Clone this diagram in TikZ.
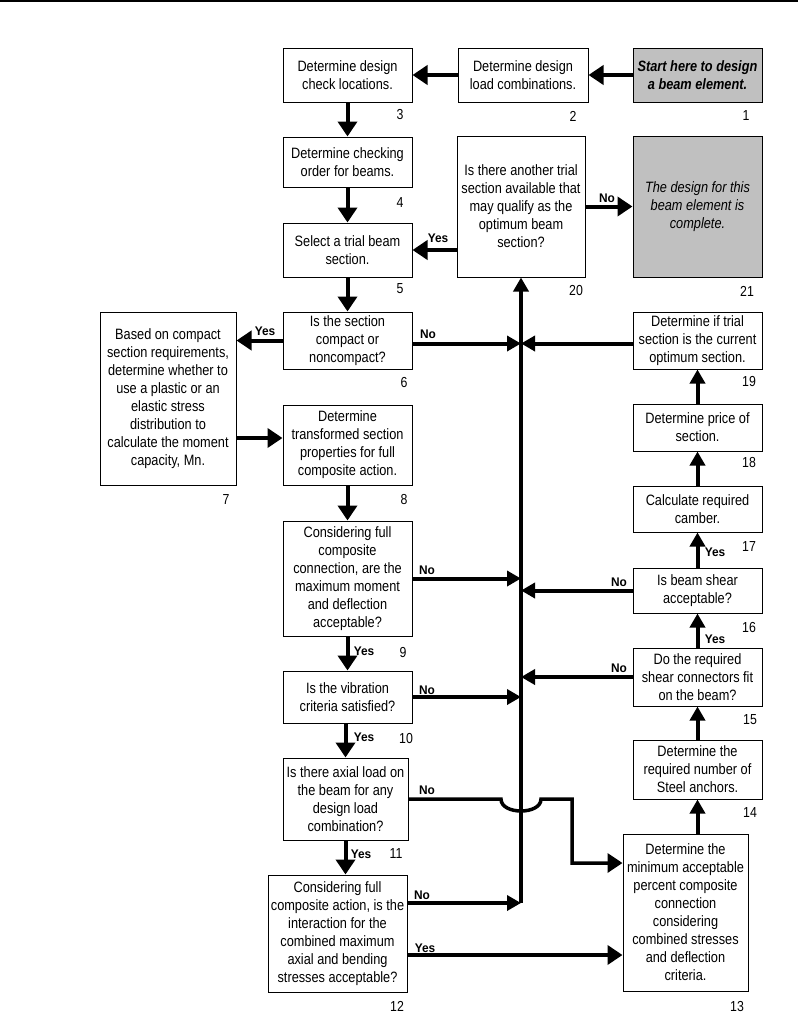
\documentclass[tikz,border=0pt]{standalone}
\usepackage{fontspec}
\setmainfont{Liberation Sans}[FakeStretch=0.85]
\newfontfamily\lblfamily{Liberation Sans}[FakeStretch=0.95]
\usetikzlibrary{arrows.meta}
\definecolor{boxgray}{RGB}{192,192,192}
\newcommand\boxfont{\fontsize{15}{18}\selectfont}
\newcommand\numfont{\fontsize{14.5}{16}\selectfont}
\newcommand\lblfont{\lblfamily\bfseries\fontsize{12.5}{14}\selectfont}
\newcommand\mybox[7][]{\node[box,#1,minimum width={(#5-#3)*1pt},minimum height={(#6-#4)*1pt}] (#2) at ({(#3+#5)/2},{(#4+#6)/2}) {#7};}
\begin{document}
\begin{tikzpicture}[x=1pt,y=-1pt,
  box/.style={draw=black, line width=1pt, fill=white, inner sep=1pt, align=center, font=\boxfont},
  startbox/.style={fill=boxgray, font=\boxfont\bfseries\itshape},
  endbox/.style={fill=boxgray, font=\boxfont\itshape},
  num/.style={font=\numfont, inner sep=0pt},
  lbl/.style={font=\lblfont, inner sep=0pt},
  arr/.style={line width=4pt, -{Triangle[length=15pt,width=19pt]}},
  arrs/.style={line width=4pt, -{Triangle[length=14pt,width=15pt]}},
  busline/.style={line width=3.5pt}
]
\useasboundingbox (0,0) rectangle (798,1021);
\draw[line width=1.5pt] (0,0.75) -- (798,0.75);

% boxes
\mybox[startbox]{b1}{633}{48}{762}{102}{Start here to design\\a beam element.}
\mybox{b2}{458}{48}{588}{102}{Determine design\\load combinations.}
\mybox{b3}{283}{48}{412}{102}{Determine design\\check locations.}
\mybox{b4}{283}{137}{412}{187}{Determine checking\\order for beams.}
\mybox{b5}{283}{223}{412}{277}{Select a trial beam\\section.}
\mybox{b20}{457}{136}{585}{277}{Is there another trial\\section available that\\may qualify as the\\optimum beam\\section?}
\mybox[endbox]{b21}{633}{136}{762}{277}{The design for this\\beam element is\\complete.}
\mybox{b6}{283}{312}{412}{369}{Is the section\\compact or\\noncompact?}
\mybox{b7}{100}{312}{236}{485}{Based on compact\\section requirements,\\determine whether to\\use a plastic or an\\elastic stress\\distribution to\\calculate the moment\\capacity, Mn.}
\mybox{b8}{283}{405}{412}{485}{Determine\\transformed section\\properties for full\\composite action.}
\mybox{b9}{283}{521}{412}{636}{Considering full\\composite\\connection, are the\\maximum moment\\and deflection\\acceptable?}
\mybox{b10}{283}{671}{412}{723}{Is the vibration\\criteria satisfied?}
\mybox{b11}{283}{758}{408}{840}{Is there axial load on\\the beam for any\\design load\\combination?}
\mybox{b12}{268}{875}{407}{992}{Considering full\\composite action, is the\\interaction for the\\combined maximum\\axial and bending\\stresses acceptable?}
\mybox{b13}{623}{834}{748}{991}{Determine the\\minimum acceptable\\percent composite\\connection\\considering\\combined stresses\\and deflection\\criteria.}
\mybox{b14}{633}{740}{762}{799}{Determine the\\required number of\\Steel anchors.}
\mybox{b15}{633}{648}{762}{706}{Do the required\\shear connectors fit\\on the beam?}
\mybox{b16}{633}{568}{762}{613}{Is beam shear\\acceptable?}
\mybox{b17}{633}{486}{762}{532}{Calculate required\\camber.}
\mybox{b18}{633}{404}{762}{451}{Determine price of\\section.}
\mybox{b19}{633}{312}{762}{369}{Determine if trial\\section is the current\\optimum section.}

% numbers
\node[num] (n1) at (746,116) {1};
\node[num] (n2) at (573,116) {2};
\node[num] (n3) at (400,115) {3};
\node[num] (n4) at (400,203) {4};
\node[num] (n5) at (400,289) {5};
\node[num] (n6) at (404,383) {6};
\node[num] (n7) at (226,500) {7};
\node[num] (n8) at (404,500) {8};
\node[num] (n9) at (403,652) {9};
\node[num] (n10) at (406,738) {10};
\node[num] (n11) at (396,854) {11};
\node[num] (n12) at (397,1006) {12};
\node[num] (n13) at (737,1006) {13};
\node[num] (n14) at (750,813) {14};
\node[num] (n15) at (750,720) {15};
\node[num] (n16) at (749,627) {16};
\node[num] (n17) at (749,547) {17};
\node[num] (n18) at (749,463) {18};
\node[num] (n19) at (749,382) {19};
\node[num] (n20) at (576,291) {20};
\node[num] (n21) at (747,291) {21};

% top row
\draw[arr] (b1.west) -- (b2.east);
\draw[arr] (b2.west) -- (b3.east);
% left column
\draw[arr] (b3.south) -- (b4.north);
\draw[arr] (b4.south) -- (b5.north);
\draw[arr] (b5.south) -- (b6.north);
\draw[arr] (b8.south) -- (b9.north);
\draw[arr] (b9.south) -- (b10.north);
\draw[arr] (b10.south -| b11.north) -- (b11.north);
\draw[arr] (b11.south) -- (b11.south |- b12.north);
\draw[arr] (b20.west |- b5.east) -- (b5.east);
\draw[arr] (b20.east) -- (b21.west);
\draw[arr] (b6.west) -- (b6.west -| b7.east);
\draw[arr] ([yshift=-39.5pt]b7.east) -- ([yshift=-39.5pt]b7.east -| b8.west);
% right column
\draw[arrs] (b13.north -| b14.south) -- (b14.south);
\draw[arrs] (b14.north) -- (b15.south);
\draw[arrs] (b15.north) -- (b16.south);
\draw[arrs] (b16.north) -- (b17.south);
\draw[arrs] (b17.north) -- (b18.south);
\draw[arrs] (b18.north) -- (b19.south);

% bus
\coordinate (busb) at (521,903);
\draw[busline, -{Triangle[length=14pt,width=15pt]}] (busb) -- (b20.south);
\draw[arrs] ([yshift=-3pt]b6.east) -- ([yshift=-3pt]b6.east -| busb);
\draw[arrs] ([yshift=-3pt]b19.west) -- ([yshift=-3pt]b19.west -| busb);
\draw[arrs] (b9.east) -- (b9.east -| busb);
\draw[arrs] (b16.west) -- (b16.west -| busb);
\draw[arrs] (b10.east) -- (b10.east -| busb);
\draw[arrs] (b15.west) -- (b15.west -| busb);
\draw[arrs] ([yshift=30.5pt]b12.east) -- ([yshift=30.5pt]b12.east -| busb);
\draw[arr] ([yshift=-21.5pt]b12.east) -- ([yshift=-21.5pt]b12.east -| b13.west);
\draw[line width=3.5pt, -{Triangle[length=15pt,width=19pt]}] (b11.east) -- (501,799) .. controls (501,815) and (541,815) .. (541,799) -- (572,799) -- (572,863) -- (b13.west |- 0,863);

% labels
\node[lbl] (y20) at (438,238) {Yes};
\node[lbl] (n20l) at (607,198) {No};
\node[lbl] (y6) at (265,331) {Yes};
\node[lbl] (n6l) at (428,334) {No};
\node[lbl] (n9l) at (427,570) {No};
\node[lbl] (y9) at (364,651) {Yes};
\node[lbl] (n10l) at (427,690) {No};
\node[lbl] (y10) at (364,737) {Yes};
\node[lbl] (n11l) at (427,790) {No};
\node[lbl] (y11) at (361,854) {Yes};
\node[lbl] (n12l) at (422,895) {No};
\node[lbl] (y12) at (425,948) {Yes};
\node[lbl] (n16l) at (619,582) {No};
\node[lbl] (y16) at (715,552) {Yes};
\node[lbl] (y15) at (715,639) {Yes};
\node[lbl] (n15l) at (619,668) {No};
\end{tikzpicture}
\end{document}
